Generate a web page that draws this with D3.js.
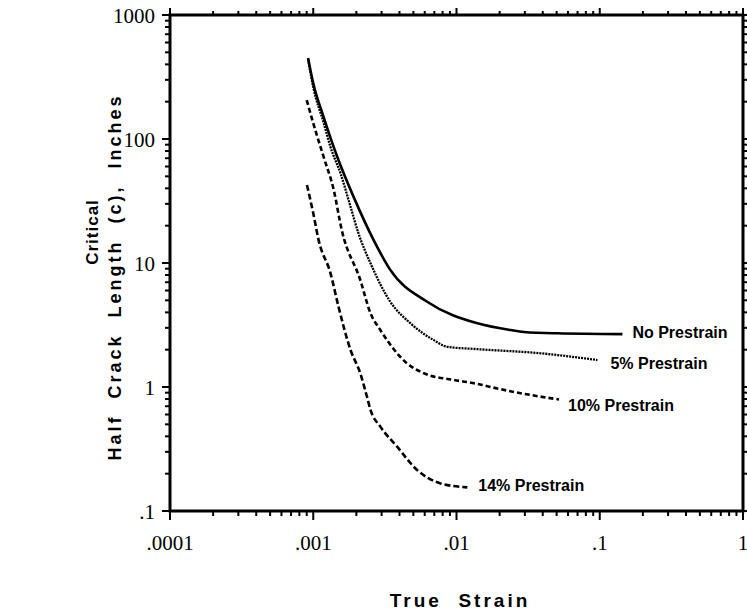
<!DOCTYPE html>
<html>
<head>
<meta charset="utf-8">
<script src="https://cdn.jsdelivr.net/npm/d3@7"></script>
<style>
  html, body { margin: 0; padding: 0; background: #fff; }
  svg { display: block; }
</style>
</head>
<body>
<svg id="chart" width="747" height="615"></svg>
<script>
// ---- data ----
const xTickValues = [0.0001, 0.001, 0.01, 0.1, 1];
const xTickLabels = [".0001", ".001", ".01", ".1", "1"];
const yTickValues = [0.1, 1, 10, 100, 1000];
const yTickLabels = [".1", "1", "10", "100", "1000"];

const seriesNames = ["No Prestrain", "5% Prestrain", "10% Prestrain", "14% Prestrain"];

const noPrestrainX = [0.00092, 0.001, 0.00118, 0.00147, 0.00191, 0.00264, 0.00345, 0.00624, 0.014, 0.0239, 0.0296, 0.0506, 0.144];
const noPrestrainY = [450, 281, 151, 72, 34.3, 15.3, 8.8, 4.87, 3.26, 2.88, 2.78, 2.71, 2.67];

const prestrain5X = [0.00092, 0.001, 0.00118, 0.00132, 0.00155, 0.00182, 0.00207, 0.00251, 0.00345, 0.00476, 0.00693, 0.00861, 0.014, 0.0386, 0.0964];
const prestrain5Y = [440, 262, 136, 86, 52.9, 28.5, 17.3, 9.95, 4.87, 3.27, 2.39, 2.11, 2.02, 1.87, 1.65];

const prestrain10X = [0.0009, 0.001, 0.00118, 0.00139, 0.00158, 0.00213, 0.00251, 0.00294, 0.00452, 0.00592, 0.00957, 0.014, 0.0173, 0.0386, 0.052];
const prestrain10Y = [206, 134, 72, 38.8, 18.5, 7.3, 3.93, 2.88, 1.55, 1.29, 1.14, 1.06, 1.0, 0.836, 0.794];

const prestrain14X = [0.000904, 0.001, 0.00109, 0.00132, 0.0015, 0.00182, 0.00213, 0.00237, 0.00251, 0.00294, 0.00385, 0.00531, 0.00773, 0.0119];
const prestrain14Y = [42.6, 25.2, 15.3, 8.26, 4.45, 1.99, 1.29, 0.836, 0.653, 0.479, 0.33, 0.214, 0.167, 0.155];

// ---- layout ----
const svg = d3.select("#chart");
const plotLeft = 170, plotRight = 743, plotTop = 15, plotBottom = 511;

const x = d3.scaleLog().domain([0.0001, 1]).range([plotLeft, plotRight]);
const y = d3.scaleLog().domain([0.1, 1000]).range([plotBottom, plotTop]);

const series = [
  { name: seriesNames[0], xs: noPrestrainX, ys: noPrestrainY, dash: null, width: 2.6, labelDx: 10, labelDy: 0 },
  { name: seriesNames[1], xs: prestrain5X, ys: prestrain5Y, dash: "2,1", width: 2.3, labelDx: 13, labelDy: 5 },
  { name: seriesNames[2], xs: prestrain10X, ys: prestrain10Y, dash: "5,3", width: 2.6, labelDx: 9, labelDy: 7 },
  { name: seriesNames[3], xs: prestrain14X, ys: prestrain14Y, dash: "6,3", width: 2.6, labelDx: 11, labelDy: -1 }
];

const line = d3.line()
  .x(d => x(d[0]))
  .y(d => y(d[1]))
  .curve(d3.curveMonotoneX);

series.forEach(s => {
  const pts = s.xs.map((v, i) => [v, s.ys[i]]);
  svg.append("path")
    .attr("d", line(pts))
    .attr("fill", "none")
    .attr("stroke", "#000")
    .attr("stroke-width", s.width)
    .attr("stroke-dasharray", s.dash)
    .attr("stroke-linecap", "butt");
  const last = pts[pts.length - 1];
  svg.append("text")
    .attr("x", x(last[0]) + s.labelDx)
    .attr("y", y(last[1]) + s.labelDy)
    .attr("dominant-baseline", "middle")
    .attr("font-family", "Liberation Sans, Arial, Helvetica, sans-serif")
    .attr("font-weight", "bold")
    .attr("font-size", 16)
    .text(s.name);
});

// ---- axes: ticks ----
const xAllTicks = x.ticks();
const yAllTicks = y.ticks();
const isMajor = v => Math.abs(Math.log10(v) - Math.round(Math.log10(v))) < 1e-6;

const tickG = svg.append("g").attr("stroke", "#000").attr("stroke-width", 2);
xAllTicks.forEach(v => {
  const px = x(v);
  const lenB = isMajor(v) ? 9 : 5;
  const lenT = isMajor(v) ? 7 : 4;
  tickG.append("line").attr("x1", px).attr("x2", px).attr("y1", plotBottom).attr("y2", plotBottom + lenB);
  tickG.append("line").attr("x1", px).attr("x2", px).attr("y1", plotTop).attr("y2", plotTop - lenT);
});
yAllTicks.forEach(v => {
  const py = y(v);
  const lenL = isMajor(v) ? 8 : 5;
  const lenR = isMajor(v) ? 6 : 4;
  tickG.append("line").attr("x1", plotLeft).attr("x2", plotLeft - lenL).attr("y1", py).attr("y2", py);
  tickG.append("line").attr("x1", plotRight).attr("x2", plotRight + lenR).attr("y1", py).attr("y2", py);
});

// frame
svg.append("rect")
  .attr("x", plotLeft).attr("y", plotTop)
  .attr("width", plotRight - plotLeft).attr("height", plotBottom - plotTop)
  .attr("fill", "none").attr("stroke", "#000").attr("stroke-width", 3);

// tick labels
const serif = "Liberation Serif, Times New Roman, Times, serif";
xTickValues.forEach((v, i) => {
  svg.append("text")
    .attr("x", x(v)).attr("y", 550)
    .attr("text-anchor", "middle")
    .attr("font-family", serif).attr("font-size", 21)
    .text(xTickLabels[i]);
});
yTickValues.forEach((v, i) => {
  svg.append("text")
    .attr("x", 155).attr("y", y(v) + 8)
    .attr("text-anchor", "end")
    .attr("font-family", serif).attr("font-size", 21)
    .text(yTickLabels[i]);
});

// axis titles
const sans = "Liberation Sans, Arial, Helvetica, sans-serif";
svg.append("text")
  .attr("x", 460).attr("y", 607)
  .attr("text-anchor", "middle")
  .attr("font-family", sans).attr("font-weight", "bold").attr("font-size", 19)
  .attr("letter-spacing", 3)
  .attr("xml:space", "preserve")
  .text("True  Strain");

svg.append("text")
  .attr("transform", "translate(98,232) rotate(-90)")
  .attr("text-anchor", "middle")
  .attr("font-family", sans).attr("font-weight", "bold").attr("font-size", 17)
  .attr("letter-spacing", 1)
  .text("Critical");
svg.append("text")
  .attr("transform", "translate(121,277) rotate(-90)")
  .attr("text-anchor", "middle")
  .attr("font-family", sans).attr("font-weight", "bold").attr("font-size", 18)
  .attr("letter-spacing", 3)
  .attr("xml:space", "preserve")
  .text("Half  Crack  Length  (c),  Inches");
</script>
</body>
</html>
